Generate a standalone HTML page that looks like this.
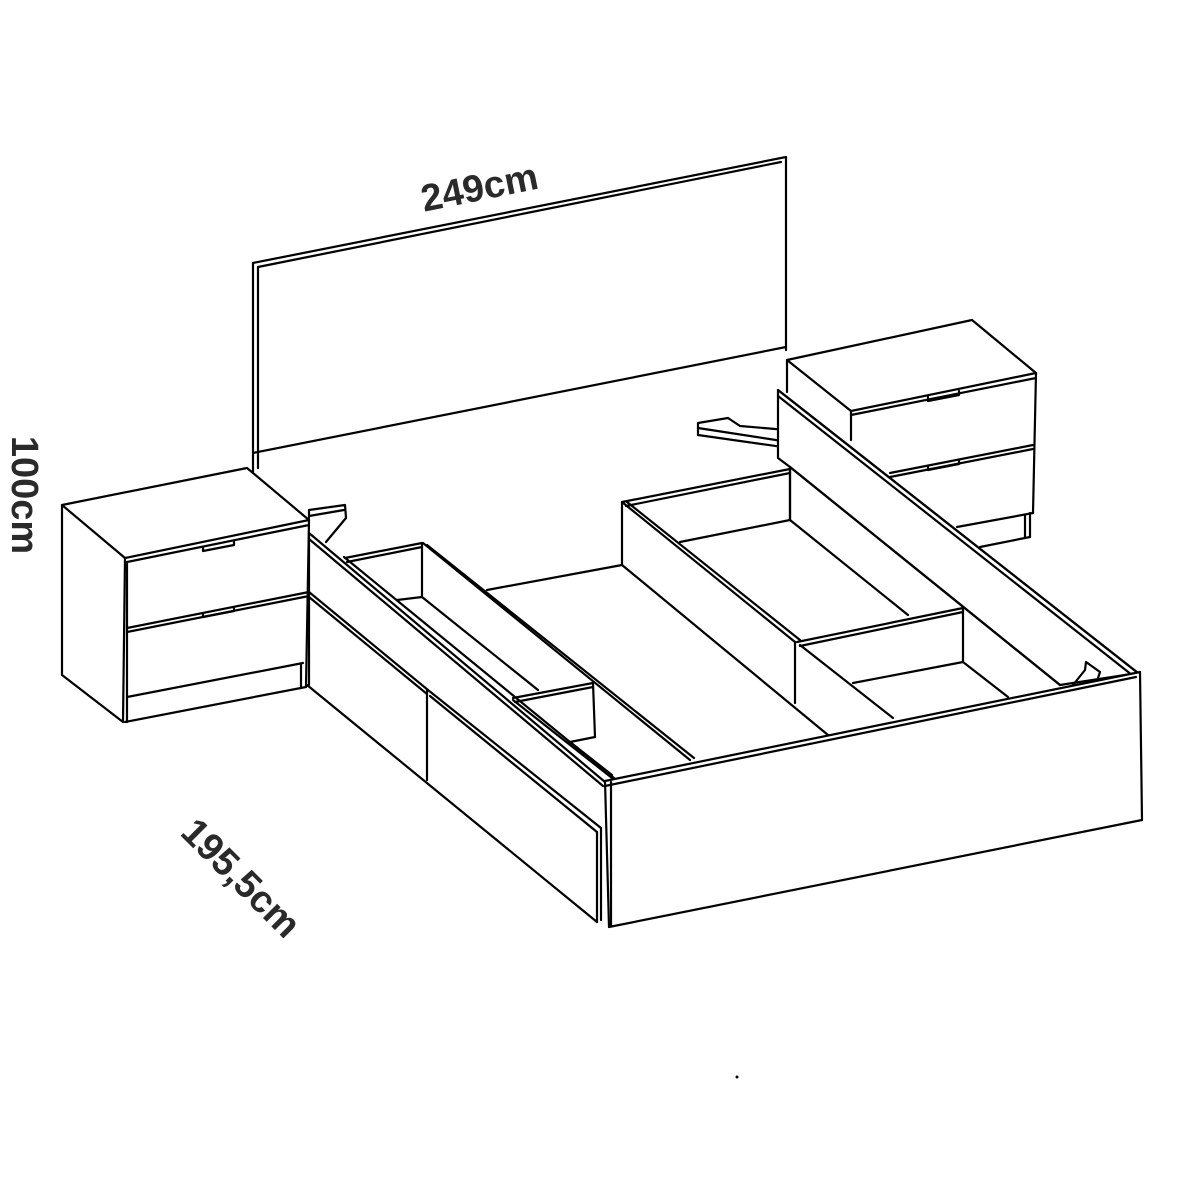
<!DOCTYPE html>
<html><head><style>
html,body{margin:0;padding:0;background:#fff}
svg{display:block}
text{font-family:"Liberation Sans",sans-serif;font-weight:bold;fill:#2a2a2a}
</style></head><body>
<svg width="1200" height="1200" viewBox="0 0 1200 1200" xmlns="http://www.w3.org/2000/svg">
<g fill="none" stroke="#000" stroke-width="2.2" stroke-linejoin="round" stroke-linecap="round">
<!-- headboard -->
<polyline points="253,472 253,263 786,157 786,350"/>
<polyline points="258,468 258,267 781,162"/>
<line x1="253" y1="453" x2="786" y2="347"/>
<!-- left nightstand -->
<polygon points="62,505 247,468 309,520 125,558" fill="#fff"/>
<polyline points="62,505 62,675 123,722 125,558"/>
<line x1="127" y1="562" x2="309" y2="525"/>
<line x1="127" y1="562" x2="127" y2="722"/>
<line x1="309" y1="520" x2="306" y2="687"/>
<line x1="127" y1="628" x2="309" y2="592"/>
<line x1="127" y1="632" x2="309" y2="596"/>
<line x1="127" y1="697" x2="303" y2="663"/>
<line x1="125" y1="722" x2="306" y2="687"/>
<line x1="301" y1="665" x2="301" y2="688"/>
<polyline points="203,547 203,551 234,545 234,541"/>
<polyline points="203,613 203,617 234,611 234,607"/>
<!-- left bracket -->
<polyline points="309,518 309,510 345,505 346,518 326,542"/>
<line x1="309" y1="516" x2="344" y2="510"/>
<!-- left rail -->
<line x1="309" y1="533" x2="309" y2="685"/>
<line x1="309" y1="533" x2="605" y2="782"/>
<line x1="309" y1="539" x2="603" y2="786"/>
<line x1="344" y1="557" x2="620" y2="783"/>
<line x1="309" y1="592" x2="428" y2="690"/>
<line x1="309" y1="597" x2="427" y2="694"/>
<line x1="428" y1="690" x2="601" y2="828"/>
<line x1="430" y1="696" x2="597" y2="832"/>
<line x1="427" y1="690" x2="427" y2="780"/>
<line x1="597" y1="832" x2="597" y2="922"/>
<line x1="601" y1="828" x2="601" y2="920"/>
<line x1="307" y1="685" x2="597" y2="922"/>
<!-- left storage -->
<polyline points="345,558 422,543 422,597 397,600"/>
<line x1="347" y1="562" x2="422" y2="547"/>
<line x1="422" y1="597" x2="538" y2="690"/>
<line x1="423" y1="543" x2="690" y2="760"/>
<line x1="427" y1="545" x2="694" y2="758"/>
<polyline points="513,698 593,683 595,737 570,742"/>
<line x1="515" y1="702" x2="593" y2="687"/>
<line x1="513" y1="700" x2="612" y2="778"/>
<line x1="570" y1="742" x2="612" y2="775"/>
<line x1="487" y1="590" x2="622" y2="565"/>
<!-- center storage -->
<polyline points="622,565 622,502 790,469 790,520 680,542"/>
<line x1="626" y1="506" x2="790" y2="473"/>
<line x1="622" y1="502" x2="795" y2="642"/>
<line x1="627" y1="502" x2="800" y2="640"/>
<line x1="622" y1="565" x2="828" y2="735"/>
<line x1="795" y1="642" x2="795" y2="703"/>
<line x1="790" y1="520" x2="908" y2="615"/>
<!-- right divider -->
<polyline points="797,642 963,608 963,662 853,683"/>
<line x1="800" y1="646" x2="963" y2="612"/>
<line x1="963" y1="662" x2="1008" y2="697"/>
<line x1="800" y1="645" x2="893" y2="718"/>
<!-- right nightstand -->
<polygon points="787,360 972,320 1036,373 851,411" fill="#fff"/>
<line x1="851" y1="415" x2="1036" y2="378"/>
<line x1="851" y1="411" x2="851" y2="440"/>
<line x1="1036" y1="373" x2="1033" y2="513"/>
<line x1="890" y1="473" x2="1033" y2="445"/>
<line x1="890" y1="477" x2="1033" y2="449"/>
<line x1="957" y1="527" x2="1033" y2="513"/>
<line x1="980" y1="547" x2="1030" y2="537"/>
<line x1="1025" y1="515" x2="1025" y2="538"/>
<line x1="1030" y1="513" x2="1030" y2="537"/>
<polyline points="928,397 928,401 959,395 959,391"/>
<polyline points="928,466 928,470 959,464 959,460"/>
<line x1="787" y1="360" x2="787" y2="392"/>
<!-- right bracket -->
<polygon points="698,423 728,418 740,426 799,431 801,427 818,440 818,452 698,435" fill="#fff"/>
<line x1="698" y1="428" x2="815" y2="446"/>
<line x1="801" y1="428" x2="812" y2="446"/>
<!-- right rail -->
<polygon points="778,390 778,458 790,467 1060,685 1138,673" fill="#fff"/>
<line x1="778" y1="390" x2="1138" y2="673"/>
<line x1="778" y1="396" x2="1132" y2="675"/>
<line x1="790" y1="467" x2="1060" y2="685"/>
<line x1="790" y1="467" x2="790" y2="520"/>
<polyline points="1073,685 1085,670 1086,662 1100,672 1098,678"/>
<!-- footboard -->
<polygon points="605,781 1140,672 1142,820 609,927" fill="#fff"/>
<line x1="605" y1="786" x2="1136" y2="677"/>
<line x1="611" y1="782" x2="611" y2="926"/>
</g>
<circle cx="737" cy="1077" r="1.5" fill="#000"/>
<text x="0" y="0" font-size="38" text-anchor="middle" transform="translate(482,200) rotate(-11.5)">249cm</text>
<text x="0" y="0" font-size="38" text-anchor="middle" transform="translate(12,495) rotate(90)">100cm</text>
<text x="0" y="0" font-size="38" text-anchor="middle" transform="translate(232,887) rotate(45)">195,5cm</text>
</svg>
</body></html>
